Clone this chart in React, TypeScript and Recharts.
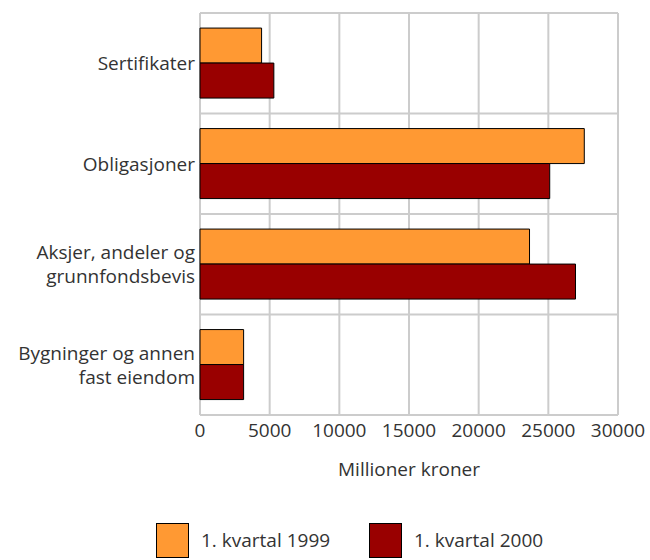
import React from "react";
import { BarChart, Bar, XAxis, YAxis, CartesianGrid, Legend } from "recharts";

const categories = [
  "Sertifikater",
  "Obligasjoner",
  "Aksjer, andeler og\ngrunnfondsbevis",
  "Bygninger og annen\nfast eiendom",
];
const q1999 = [4420, 27580, 23650, 3130];
const q2000 = [5300, 25100, 26950, 3130];
const xTicks = [0, 5000, 10000, 15000, 20000, 25000, 30000];
const seriesNames = ["1. kvartal 1999", "1. kvartal 2000"];
const colors = ["#FF9933", "#990000"];

const data = categories.map((c, i) => ({ name: c, a: q1999[i], b: q2000[i] }));

const FONT = "'Open Sans', sans-serif";
const TEXT = "#333333";

const YTick = (props: any) => {
  const { x, y, payload } = props;
  const lines = String(payload.value).split("\n");
  const lh = 24;
  const start = -((lines.length - 1) * lh) / 2;
  return (
    <text x={x} y={y} textAnchor="end" fontFamily={FONT} fontSize={19} fill={TEXT}>
      {lines.map((l, i) => (
        <tspan key={i} x={x} dy={i === 0 ? start + 7 : lh}>
          {l}
        </tspan>
      ))}
    </text>
  );
};

const LegendContent = () => (
  <div style={{ position: "relative", width: 650, height: 70, fontFamily: FONT }}>
    {seriesNames.map((n, i) => (
      <div key={n}>
        <div
          style={{
            position: "absolute",
            left: i === 0 ? 156 : 369,
            top: 33,
            width: 31,
            height: 33,
            background: colors[i],
            border: "1px solid #000",
          }}
        />
        <div
          style={{
            position: "absolute",
            left: i === 0 ? 201 : 414,
            top: 37,
            fontSize: 19,
            color: TEXT,
            lineHeight: "26px",
            whiteSpace: "nowrap",
          }}
        >
          {n}
        </div>
      </div>
    ))}
  </div>
);

export default function App() {
  return (
    <div style={{ position: "absolute", left: 0, top: 0 }}>
      <BarChart
        width={650}
        height={560}
        data={data}
        layout="vertical"
        margin={{ top: 13, right: 32, left: 0, bottom: 0 }}
        barCategoryGap="15%"
        barGap={0}
      >
        <CartesianGrid
          stroke="#cccccc"
          strokeWidth={2}
          horizontalCoordinatesGenerator={({ offset }: any) =>
            categories.map((_, i) => offset.top + (i * offset.height) / categories.length).concat([offset.top + offset.height])
          }
        />
        <XAxis
          type="number"
          domain={[0, 30000]}
          ticks={xTicks}
          interval={0}
          height={75}
          tickLine={false}
          axisLine={false}
          tickSize={0}
          tickMargin={9}
          tick={{ fontFamily: FONT, fontSize: 19, fill: TEXT }}
          label={{
            value: "Millioner kroner",
            position: "insideBottom",
            offset: 14,
            style: { fontFamily: FONT, fontSize: 19, fill: TEXT },
          }}
        />
        <YAxis
          type="category"
          dataKey="name"
          width={200}
          tickLine={false}
          axisLine={false}
          tickSize={0}
          tickMargin={5}
          interval={0}
          tick={<YTick />}
        />
        <Bar dataKey="a" name={seriesNames[0]} fill={colors[0]} stroke="#000" strokeWidth={1} isAnimationActive={false} />
        <Bar dataKey="b" name={seriesNames[1]} fill={colors[1]} stroke="#000" strokeWidth={1} isAnimationActive={false} />
        <Legend
          verticalAlign="bottom"
          content={<LegendContent />}
          wrapperStyle={{ left: 0, width: 650, height: 70 }}
        />
      </BarChart>
    </div>
  );
}
